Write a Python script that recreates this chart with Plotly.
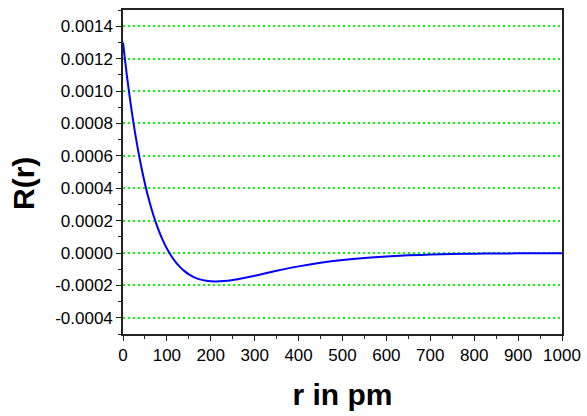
import plotly.graph_objects as go

# radius in pm
r_pm = [0, 10, 20, 30, 40, 50, 60, 70, 80, 90, 100, 110, 120, 130, 140, 150, 160,
        175, 190, 210, 230, 250, 275, 300, 350, 400, 450, 500, 550, 600, 650, 700,
        750, 800, 850, 900, 950, 1000]
# radial function R(r)
R_vals = [0.001300, 0.001071, 0.000873, 0.000701, 0.000554, 0.000428, 0.000319,
          0.000227, 0.000149, 0.0000829, 0.0000277, -0.0000183, -0.0000561,
          -0.0000870, -0.0001119, -0.0001316, -0.0001468, -0.0001627, -0.0001717,
          -0.0001759, -0.0001735, -0.0001668, -0.0001545, -0.0001401, -0.0001098,
          -0.0000825, -0.0000601, -0.0000429, -0.0000301, -0.0000209, -0.0000144,
          -0.0000098, -0.0000066, -0.0000044, -0.0000030, -0.0000020, -0.0000013,
          -0.0000009]

y_tickvals = [-0.0004, -0.0002, 0.0, 0.0002, 0.0004, 0.0006, 0.0008, 0.0010, 0.0012, 0.0014]
y_ticktext = ["-0.0004", "-0.0002", "0.0000", "0.0002", "0.0004", "0.0006",
              "0.0008", "0.0010", "0.0012", "0.0014"]

FONT = "Liberation Sans, Arial, Helvetica, sans-serif"

fig = go.Figure()
fig.add_trace(go.Scatter(x=r_pm, y=R_vals, mode="lines",
                         line=dict(color="#0000FF", width=2, shape="spline"),
                         showlegend=False))

fig.update_layout(
    width=587, height=416,
    margin=dict(l=123, r=25, t=10, b=82, autoexpand=False),
    paper_bgcolor="white", plot_bgcolor="white",
    font=dict(family=FONT, color="black", size=17),
)

fig.update_xaxes(
    range=[0, 1000], tickmode="linear", tick0=0, dtick=100,
    ticks="outside", ticklen=5, tickwidth=1, tickcolor="#222",
    minor=dict(ticks="outside", ticklen=3, dtick=50, tick0=0, tickcolor="#222", showgrid=False),
    showgrid=False, zeroline=False, automargin=False,
    showline=True, linecolor="#222", linewidth=1.5, mirror=True,
    tickfont=dict(size=17, family=FONT, color="black"),
    title=dict(text="r in pm", font=dict(size=30, family=FONT, color="black", weight="bold"),
               standoff=20),
)

fig.update_yaxes(
    range=[-0.0005, 0.0015], tickmode="array", tickvals=y_tickvals, ticktext=y_ticktext,
    ticks="outside", ticklen=5, tickwidth=1, tickcolor="#222",
    minor=dict(ticks="outside", ticklen=3, dtick=0.0001, tick0=0, tickcolor="#222", showgrid=False),
    showgrid=True, gridcolor="#00FF00", gridwidth=1.6, griddash="2px,3px",
    zeroline=False, automargin=False,
    showline=True, linecolor="#222", linewidth=1.5, mirror=True,
    tickfont=dict(size=17, family=FONT, color="black"),
)

fig.add_annotation(
    text="R(r)", xref="paper", yref="paper", x=-0.2255, y=0.463,
    xanchor="center", yanchor="middle", textangle=-90, showarrow=False,
    font=dict(size=30, family=FONT, color="black", weight="bold"),
)

fig.write_html("out.html", config={"displayModeBar": False},
               post_script="document.body.style.margin='0';document.body.style.padding='0';")
